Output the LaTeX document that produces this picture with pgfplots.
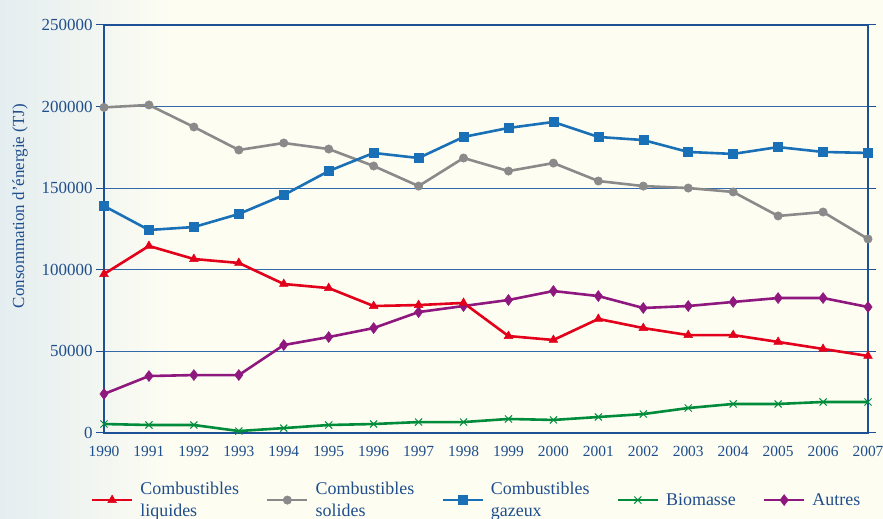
\documentclass[border=0pt]{standalone}
\usepackage{fontspec}
\setmainfont{Liberation Serif}
\usepackage{pgfplots}
\pgfplotsset{compat=1.18}

\definecolor{bleutxt}{RGB}{31,78,140}
\definecolor{axe}{RGB}{30,80,150}
\definecolor{grille}{RGB}{50,105,170}
\definecolor{rouge}{RGB}{226,0,26}
\definecolor{gris}{RGB}{138,138,138}
\definecolor{bleu}{RGB}{25,112,183}
\definecolor{vert}{RGB}{0,140,58}
\definecolor{violet}{RGB}{142,24,126}
\definecolor{fondg}{RGB}{228,237,240}
\definecolor{fondd}{RGB}{253,253,242}

\begin{document}
\begin{tikzpicture}
\fill[fondd] (0,0) rectangle (883bp,519bp);
\shade[left color=fondg, right color=fondd] (0,0) rectangle (170bp,519bp);
\begin{axis}[
	at={(104bp,86bp)}, anchor=south west,
	scale only axis, width=764bp, height=408bp,
	xmin=1990, xmax=2007,
	ymin=0, ymax=250000,
	xtick={1990,1991,1992,1993,1994,1995,1996,1997,1998,1999,2000,2001,2002,2003,2004,2005,2006,2007},
	ytick={0,50000,100000,150000,200000,250000},
	scaled y ticks=false,
	/pgf/number format/fixed,
	/pgf/number format/1000 sep={},
	/pgf/number format/assume math mode=true,
	axis line style={axe, line width=1.5bp},
	ymajorgrids,
	grid style={grille, line width=0.8bp},
	tick align=outside,
	major tick length=8bp,
	xtick style={draw=none},
	ytick style={axe, line width=1bp},
	ticklabel style={text=bleutxt},
	yticklabel style={font=\fontsize{17}{20}\selectfont},
	xticklabel style={font=\fontsize{15.5}{18}\selectfont, yshift=-2bp},
	ylabel={Consommation d’énergie (TJ)},
	ylabel style={font=\fontsize{17}{20}\selectfont, text=bleutxt,
		at={(axis description cs:-0.11,0.556)}, anchor=center},
	legend columns=5,
	legend cell align=left,
	legend style={
		at={(axis description cs:-0.0175,-0.12)}, anchor=north west,
		draw=none, fill=none, inner sep=0pt,
		font=\fontsize{18}{22}\selectfont,
		nodes={align=left, inner sep=0pt, text=bleutxt},
		/tikz/every odd column/.append style={column sep=7bp},
		/tikz/every even column/.append style={column sep=27bp},
	},
	legend image code/.code={
		\draw[mark repeat=2, mark phase=2]
		plot coordinates {(0bp,0bp) (20bp,0bp) (40bp,0bp)};
	},
]
% legende
\addlegendimage{rouge, line width=2.6bp, mark=triangle*, mark size=5bp, mark options={line width=0.5bp}}
\addlegendentry{Combustibles\\liquides}
\addlegendimage{gris, line width=2.6bp, mark=*, mark size=4.2bp, mark options={line width=0.5bp}}
\addlegendentry{Combustibles\\solides}
\addlegendimage{bleu, line width=2.6bp, mark=square*, mark size=4.5bp, mark options={line width=0.5bp}}
\addlegendentry{Combustibles\\gazeux}
\addlegendimage{vert, line width=2.6bp, mark=x, mark size=5bp, mark options={line width=1bp}}
\addlegendentry{Biomasse}
\addlegendimage{violet, line width=2.6bp, mark=diamond*, mark size=5.5bp, mark options={line width=0.5bp}}
\addlegendentry{Autres}

% Biomasse
\addplot[forget plot, vert, line width=2.6bp, mark=x, mark size=5bp, mark options={line width=1bp}] coordinates {
	(1990,5500) (1991,4900) (1992,4900) (1993,1200) (1994,3000) (1995,4900)
	(1996,5500) (1997,6700) (1998,6700) (1999,8600) (2000,8000) (2001,9800)
	(2002,11600) (2003,15300) (2004,17800) (2005,17800) (2006,19000) (2007,19000)};
% Autres
\addplot[forget plot, violet, line width=2.6bp, mark=diamond*, mark size=5.5bp, mark options={line width=0.5bp}] coordinates {
	(1990,23900) (1991,34900) (1992,35500) (1993,35500) (1994,53900) (1995,58800)
	(1996,64300) (1997,74100) (1998,77800) (1999,81500) (2000,87000) (2001,83900)
	(2002,76600) (2003,77800) (2004,80300) (2005,82700) (2006,82700) (2007,77200)};
% Combustibles solides
\addplot[forget plot, gris, line width=2.6bp, mark=*, mark size=4.2bp, mark options={line width=0.5bp}] coordinates {
	(1990,199500) (1991,201000) (1992,187500) (1993,173400) (1994,177700) (1995,174000)
	(1996,163600) (1997,151300) (1998,168500) (1999,160500) (2000,165400) (2001,154400)
	(2002,151300) (2003,150100) (2004,147700) (2005,133000) (2006,135400) (2007,118900)};
% Combustibles gazeux
\addplot[forget plot, bleu, line width=2.6bp, mark=square*, mark size=4.5bp, mark options={line width=0.5bp}] coordinates {
	(1990,139100) (1991,124400) (1992,126200) (1993,134200) (1994,145800) (1995,160500)
	(1996,171600) (1997,168500) (1998,181400) (1999,186900) (2000,190600) (2001,181400)
	(2002,179500) (2003,172200) (2004,171000) (2005,175200) (2006,172200) (2007,171600)};
% Combustibles liquides
\addplot[forget plot, rouge, line width=2.6bp, mark=triangle*, mark size=5bp, mark options={line width=0.5bp}] coordinates {
	(1990,97400) (1991,114600) (1992,106600) (1993,104200) (1994,91300) (1995,88800)
	(1996,77800) (1997,78400) (1998,79700) (1999,59400) (2000,57000) (2001,69900)
	(2002,64300) (2003,60000) (2004,60000) (2005,55800) (2006,51500) (2007,47200)};
\end{axis}
\pgfresetboundingbox
\useasboundingbox (0,0) rectangle (883bp,519bp);
\end{tikzpicture}
\end{document}
